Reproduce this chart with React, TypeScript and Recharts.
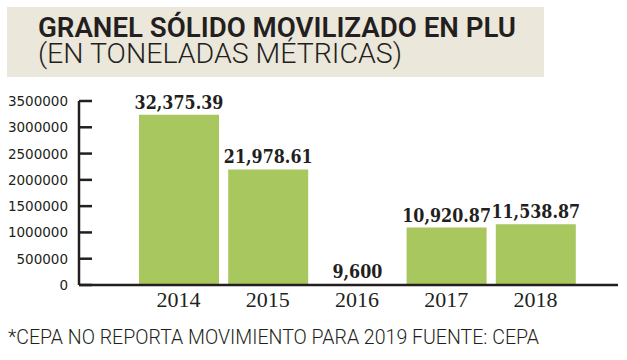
import React from 'react';
import { BarChart, Bar, XAxis, YAxis, LabelList } from 'recharts';

const years = ['2014', '2015', '2016', '2017', '2018'];
const volumes = [3237539, 2197861, 9600, 1092087, 1153887];
const valueLabels = ['32,375.39', '21,978.61', '9,600', '10,920.87', '11,538.87'];
const yTicks = [0, 500000, 1000000, 1500000, 2000000, 2500000, 3000000, 3500000];

const titleLine1 = 'GRANEL SÓLIDO MOVILIZADO EN PLU';
const titleLine2 = '(EN TONELADAS MÉTRICAS)';
const footnote = '*CEPA NO REPORTA MOVIMIENTO PARA 2019  FUENTE: CEPA';

const data = years.map((year, i) => ({ year, value: volumes[i], label: valueLabels[i] }));

const INK = '#231f20';
const GREEN = '#a9c75f';

const YTick = (props: any) => {
  const { x, y, payload } = props;
  return (
    <g>
      <line x1={x} x2={x + 13} y1={y} y2={y} stroke={INK} strokeWidth={2.5} />
      <text x={x - 11} y={y} dy={5} textAnchor="end" fontFamily="DejaVu Sans" fontSize={13.5} fill={INK}>
        {payload.value}
      </text>
    </g>
  );
};

const XTick = (props: any) => {
  const { x, y, payload } = props;
  return (
    <text x={x} y={y + 22} textAnchor="middle" fontFamily="Liberation Serif" fontSize={22} fill={INK}>
      {payload.value}
    </text>
  );
};

const BarLabel = (props: any) => {
  const { x, y, width, value } = props;
  const cx = x + width / 2;
  const by = y - 6;
  return (
    <text
      transform={`translate(${cx},${by}) scale(0.84,1)`}
      x={0}
      y={0}
      textAnchor="middle"
      fontFamily="DejaVu Serif"
      fontWeight="bold"
      fontSize={19}
      fill={INK}
    >
      {String(value)}
    </text>
  );
};

export default function App() {
  return (
    <div style={{ position: 'absolute', left: 0, top: 0, width: 627, height: 360, background: '#ffffff', overflow: 'hidden' }}>
      <svg width={627} height={360} style={{ position: 'absolute', left: 0, top: 0 }}>
        <rect x={7} y={7} width={537} height={70} fill="#ebe7da" />
        <text fontFamily="Roboto" fill={INK}>
          <tspan
            x={38}
            y={37}
            fontWeight={600}
            fontSize={27}
            textLength={478}
            lengthAdjust="spacingAndGlyphs"
          >
            {titleLine1}
          </tspan>
          <tspan
            x={38}
            y={63}
            fontWeight={300}
            fontSize={28}
            textLength={364}
            lengthAdjust="spacingAndGlyphs"
          >
            {titleLine2}
          </tspan>
        </text>
        <text
          x={8}
          y={344}
          fontFamily="Roboto"
          fontWeight={300}
          fontSize={19.5}
          fill={INK}
          textLength={531}
          lengthAdjust="spacingAndGlyphs"
        >
          {footnote}
        </text>
      </svg>
      <div style={{ position: 'absolute', left: 0, top: 0 }}>
        <BarChart width={627} height={360} data={data} margin={{ top: 101, right: 9, bottom: 45, left: 0 }} barSize={80}>
          <XAxis
            dataKey="year"
            height={30}
            padding={{ left: 55, right: 38 }}
            axisLine={{ stroke: INK, strokeWidth: 2.5 }}
            tickLine={false}
            tickSize={0}
            tickMargin={0}
            tick={<XTick />}
            interval={0}
          />
          <YAxis
            width={79}
            domain={[0, 3500000]}
            ticks={yTicks}
            interval={0}
            axisLine={{ stroke: INK, strokeWidth: 2.5 }}
            tickLine={false}
            tickSize={0}
            tickMargin={0}
            tick={<YTick />}
          />
          <Bar dataKey="value" fill={GREEN} isAnimationActive={false}>
            <LabelList dataKey="label" content={<BarLabel />} />
          </Bar>
        </BarChart>
      </div>
    </div>
  );
}
